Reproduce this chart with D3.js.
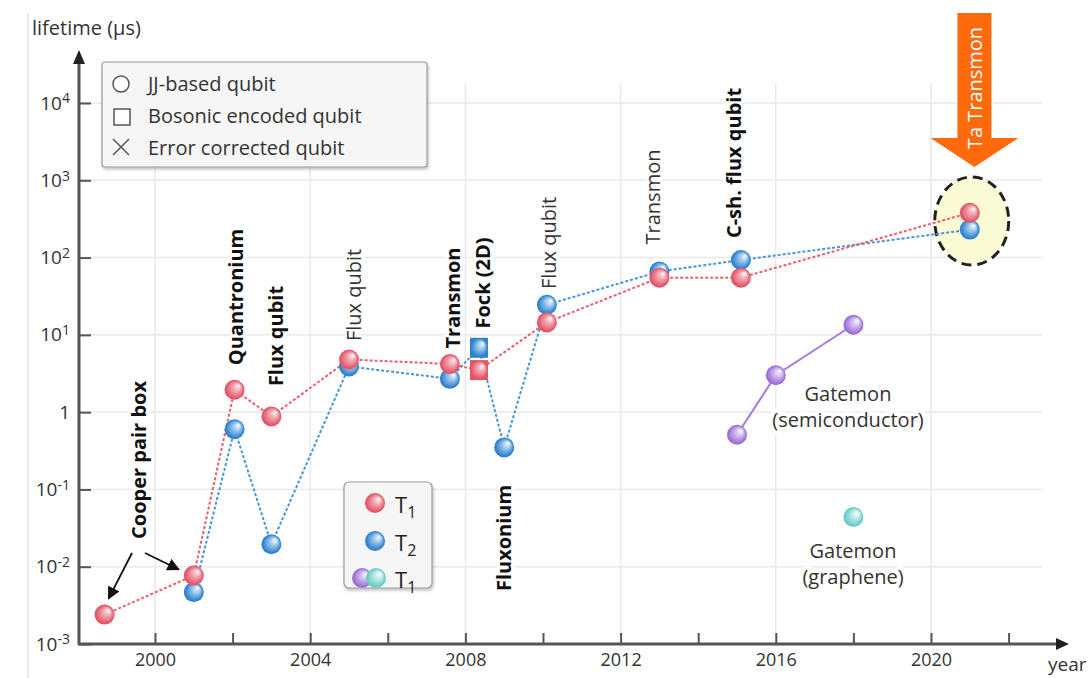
<!DOCTYPE html>
<html>
<head>
<meta charset="utf-8">
<script src="https://cdn.jsdelivr.net/npm/d3@7"></script>
<style>
  html, body { margin: 0; padding: 0; background: #fff; }
  svg { display: block; font-family: "Open Sans", "Noto Sans", sans-serif; }
</style>
</head>
<body>
<svg id="chart" width="1090" height="678"></svg>
<script>
// ---- data ---------------------------------------------------------------
// Relaxation time T1 of JJ-based qubits (µs) by year; one bosonic point (Fock 2D)
const t1Years  = [1998.7, 2001.0, 2002.05, 2003.0, 2005.0, 2007.6, 2008.35, 2010.1, 2013.0, 2015.1, 2021.0];
const t1Values = [0.0024, 0.0077, 1.95, 0.88, 4.8, 4.2, 3.5, 14.5, 55, 55, 380];
const t1Shapes = ["circle", "circle", "circle", "circle", "circle", "circle", "square", "circle", "circle", "circle", "circle"];

// Coherence time T2 (µs)
const t2Years  = [2001.0, 2002.05, 2003.0, 2005.0, 2007.6, 2008.35, 2009.0, 2010.1, 2013.0, 2015.1, 2021.0];
const t2Values = [0.0047, 0.6, 0.0195, 3.9, 2.7, 6.8, 0.35, 24.5, 66, 93, 230];
const t2Shapes = ["circle", "circle", "circle", "circle", "circle", "square", "circle", "circle", "circle", "circle", "circle"];

// Gatemon qubits, T1 (µs)
const semiYears     = [2015.0, 2016.0, 2018.0];
const semiValues    = [0.51, 3.0, 13.5];
const grapheneYears = [2018.0];
const grapheneValues = [0.044];

// axis ticks
const yTickValues = [1e-3, 1e-2, 1e-1, 1, 10, 100, 1e3, 1e4];
const yTickExponents = [-3, -2, -1, 0, 1, 2, 3, 4];
const xTickYears = [2000, 2002, 2004, 2006, 2008, 2010, 2012, 2014, 2016, 2018, 2020, 2022];
const xLabelYears = [2000, 2004, 2008, 2012, 2016, 2020];

// platform annotations (vertical text)
const platformNames = ["Cooper pair box", "Quantronium", "Flux qubit", "Flux qubit", "Transmon",
                       "Fock (2D)", "Flux qubit", "Transmon", "C-sh. flux qubit", "Fluxonium"];
const platformBold  = [true, true, true, false, true, true, false, false, true, true];

// ---- layout -------------------------------------------------------------
const svg = d3.select("#chart");
const x = d3.scaleLinear().domain([2000, 2020]).range([155, 931]);
const y = d3.scaleLog().domain([1e-3, 1e4]).range([644, 103]);
const axisX0 = 79, axisY0 = y(1e-3);

const colors = {
  red:    { base: "#e2566a", light: "#f4b2ba", line: "#e8606e" },
  blue:   { base: "#2f82cc", light: "#a9d0f0", line: "#4a94d6" },
  purple: { base: "#9c70d6", light: "#d9c6f3", line: "#a77bdc" },
  teal:   { base: "#6ccbc6", light: "#c8eeec", line: "#6ccbc6" }
};

const defs = svg.append("defs");
Object.entries(colors).forEach(([k, c]) => {
  const g = defs.append("radialGradient").attr("id", "ball-" + k)
    .attr("cx", 0.45).attr("cy", 0.55).attr("r", 0.6)
    .attr("fx", 0.72).attr("fy", 0.28);
  g.append("stop").attr("offset", 0).attr("stop-color", "#ffffff");
  g.append("stop").attr("offset", 0.28).attr("stop-color", c.light);
  g.append("stop").attr("offset", 0.75).attr("stop-color", c.base);
  g.append("stop").attr("offset", 1).attr("stop-color", c.base);
});
const shadow = defs.append("filter").attr("id", "boxshadow")
  .attr("x", -0.1).attr("y", -0.1).attr("width", 1.2).attr("height", 1.3);
shadow.append("feDropShadow").attr("dx", 1).attr("dy", 2).attr("stdDeviation", 1.5)
  .attr("flood-color", "#000").attr("flood-opacity", 0.25);
defs.append("marker").attr("id", "arrowBlack")
  .attr("viewBox", "0 0 10 10").attr("refX", 9).attr("refY", 5)
  .attr("markerWidth", 7).attr("markerHeight", 7).attr("orient", "auto")
  .append("path").attr("d", "M0,0 L10,5 L0,10 z").attr("fill", "#111");

// page frame line on the left
svg.append("line").attr("x1", 28).attr("x2", 28).attr("y1", 13).attr("y2", 678)
  .attr("stroke", "#d0d0d0").attr("stroke-width", 1);

// ---- grid ---------------------------------------------------------------
const grid = svg.append("g").attr("stroke", "#e9e9e9").attr("stroke-width", 1.5);
grid.selectAll("line.h").data(yTickValues.slice(1)).join("line")
  .attr("x1", axisX0).attr("x2", 1042)
  .attr("y1", d => y(d)).attr("y2", d => y(d));
grid.selectAll("line.v").data(xLabelYears).join("line")
  .attr("x1", d => x(d)).attr("x2", d => x(d))
  .attr("y1", 83).attr("y2", axisY0);

// ---- axes ---------------------------------------------------------------
const yAxis = d3.axisLeft(y).tickValues(yTickValues).tickSizeInner(-12).tickSizeOuter(0).tickPadding(9);
const gy = svg.append("g").attr("transform", `translate(${axisX0},0)`).call(yAxis);
gy.select(".domain").remove();
gy.selectAll(".tick line").attr("stroke", "#555").attr("stroke-width", 2);
gy.selectAll(".tick text").each(function (d, i) {
  const t = d3.select(this).text(null)
    .attr("font-size", 19).attr("fill", "#333").attr("font-family", "Open Sans, sans-serif");
  const e = yTickExponents[i];
  if (e === 0) { t.append("tspan").text("1"); return; }
  t.append("tspan").text("10");
  t.append("tspan").attr("dy", "-0.45em").attr("font-size", 14).text(String(e));
});

const xAxis = d3.axisBottom(x).tickValues(xTickYears).tickSizeInner(-11).tickSizeOuter(0).tickPadding(9)
  .tickFormat(d => xLabelYears.includes(d) ? String(d) : "");
const gx = svg.append("g").attr("transform", `translate(0,${axisY0})`).call(xAxis);
gx.select(".domain").remove();
gx.selectAll(".tick line").attr("stroke", "#555").attr("stroke-width", 2);
gx.selectAll(".tick text").attr("font-size", 18).attr("fill", "#333")
  .attr("font-family", "Open Sans, sans-serif");

// axis lines with arrow heads
const axisColor = "#555";
svg.append("line").attr("x1", axisX0).attr("x2", axisX0).attr("y1", axisY0 + 1).attr("y2", 62)
  .attr("stroke", axisColor).attr("stroke-width", 3);
svg.append("path").attr("d", `M${axisX0 - 6},64 L${axisX0},50 L${axisX0 + 6},64 Z`).attr("fill", "#222");
svg.append("line").attr("x1", axisX0 - 1).attr("x2", 1058).attr("y1", axisY0).attr("y2", axisY0)
  .attr("stroke", axisColor).attr("stroke-width", 3);
svg.append("path").attr("d", `M1056,${axisY0 - 6} L1069,${axisY0} L1056,${axisY0 + 6} Z`).attr("fill", "#222");

svg.append("text").attr("x", 32).attr("y", 35).attr("font-size", 20).attr("fill", "#333")
  .text("lifetime (µs)");
svg.append("text").attr("x", 1048).attr("y", 671).attr("font-size", 19).attr("fill", "#333")
  .text("year");

// ---- Ta transmon highlight ---------------------------------------------
svg.append("ellipse").attr("cx", x(2021.05)).attr("cy", 221).attr("rx", 37).attr("ry", 44)
  .attr("fill", "#fbfbd6").attr("stroke", "#222").attr("stroke-width", 3)
  .attr("stroke-dasharray", "10 6");

// ---- series lines -------------------------------------------------------
function series(years, values) { return years.map((yr, i) => ({ yr, v: values[i] })); }
const line = d3.line().x(d => x(d.yr)).y(d => y(d.v));

const t2 = series(t2Years, t2Values).map((d, i) => ({ ...d, shape: t2Shapes[i] }));
const t1 = series(t1Years, t1Values).map((d, i) => ({ ...d, shape: t1Shapes[i] }));
const semi = series(semiYears, semiValues);
const graphene = series(grapheneYears, grapheneValues);

svg.append("path").datum(t2).attr("d", line).attr("fill", "none")
  .attr("stroke", colors.blue.line).attr("stroke-width", 2).attr("stroke-dasharray", "3 2");
svg.append("path").datum(t1).attr("d", line).attr("fill", "none")
  .attr("stroke", colors.red.line).attr("stroke-width", 2).attr("stroke-dasharray", "3 2");
svg.append("path").datum(semi).attr("d", line).attr("fill", "none")
  .attr("stroke", colors.purple.line).attr("stroke-width", 2);

// ---- markers ------------------------------------------------------------
const R = 10;
function drawMarkers(data, key) {
  const g = svg.append("g");
  g.selectAll("circle").data(data.filter(d => d.shape !== "square")).join("circle")
    .attr("cx", d => x(d.yr)).attr("cy", d => y(d.v)).attr("r", R)
    .attr("fill", `url(#ball-${key})`);
  g.selectAll("rect").data(data.filter(d => d.shape === "square")).join("rect")
    .attr("x", d => x(d.yr) - 9).attr("y", d => y(d.v) - 10).attr("width", 18).attr("height", 20)
    .attr("fill", `url(#ball-${key})`);
}
drawMarkers(t2, "blue");
drawMarkers(t1, "red");
drawMarkers(semi, "purple");
drawMarkers(graphene, "teal");

// ---- vertical platform labels ------------------------------------------
const platformPos = [[138, 460], [235, 297], [275, 336], [353, 295], [452, 298],
                     [482, 283], [548, 243], [652, 197], [733, 163], [503, 538]];
svg.append("g").selectAll("text").data(platformNames).join("text")
  .attr("transform", (d, i) => `translate(${platformPos[i][0]},${platformPos[i][1]}) rotate(-90)`)
  .attr("text-anchor", "middle").attr("dominant-baseline", "central")
  .attr("font-size", 20)
  .attr("font-weight", (d, i) => platformBold[i] ? 700 : 400)
  .attr("fill", (d, i) => platformBold[i] ? "#111" : "#333")
  .attr("stroke", "#fff").attr("stroke-width", 5).attr("paint-order", "stroke")
  .attr("stroke-linejoin", "round")
  .text(d => d);

// Cooper pair box pointers
svg.append("line").attr("x1", 132).attr("y1", 553).attr("x2", x(t1Years[0]) + 4).attr("y2", y(t1Values[0]) - 16)
  .attr("stroke", "#111").attr("stroke-width", 1.8).attr("marker-end", "url(#arrowBlack)");
svg.append("line").attr("x1", 145).attr("y1", 553).attr("x2", x(t1Years[1]) - 15).attr("y2", y(t1Values[1]) - 6)
  .attr("stroke", "#111").attr("stroke-width", 1.8).attr("marker-end", "url(#arrowBlack)");

// Gatemon labels
function boxedLabel(lines, cx, cy0) {
  lines.forEach((txt, i) => {
    svg.append("text").attr("x", cx).attr("y", cy0 + i * 26)
      .attr("text-anchor", "middle").attr("dominant-baseline", "central")
      .attr("font-size", 20).attr("fill", "#333")
      .attr("stroke", "#fff").attr("stroke-width", 8).attr("paint-order", "stroke")
      .attr("stroke-linejoin", "round")
      .text(txt);
  });
}
boxedLabel(["Gatemon", "(semiconductor)"], 848, 393);
boxedLabel(["Gatemon", "(graphene)"], 853, 550);

// ---- Ta transmon arrow ---------------------------------------------------
const arrowX = x(2021.12);
svg.append("path")
  .attr("d", `M${arrowX - 17},13 L${arrowX + 17},13 L${arrowX + 17},138 L${arrowX + 44},138 ` +
             `L${arrowX},167 L${arrowX - 44},138 L${arrowX - 17},138 Z`)
  .attr("fill", "#ff6a0c");
svg.append("text").attr("transform", `translate(${arrowX},88) rotate(-90)`)
  .attr("text-anchor", "middle").attr("dominant-baseline", "central")
  .attr("font-size", 20).attr("fill", "#fff").text("Ta Transmon");

// ---- legends ------------------------------------------------------------
const leg = svg.append("g");
leg.append("rect").attr("x", 102).attr("y", 62).attr("width", 325).attr("height", 105)
  .attr("rx", 3).attr("fill", "#f6f6f6").attr("stroke", "#9a9a9a").attr("stroke-width", 1.2)
  .attr("filter", "url(#boxshadow)");
const legendNames = ["JJ-based qubit", "Bosonic encoded qubit", "Error corrected qubit"];
const legendSymbolY = [84, 117, 147];
const legendTextY = [91, 123, 155];
leg.append("circle").attr("cx", 121).attr("cy", legendSymbolY[0]).attr("r", 8)
  .attr("fill", "#fff").attr("stroke", "#555").attr("stroke-width", 1.5);
leg.append("rect").attr("x", 114).attr("y", legendSymbolY[1] - 8).attr("width", 16).attr("height", 16)
  .attr("fill", "#fff").attr("stroke", "#555").attr("stroke-width", 1.5);
leg.append("path").attr("d", `M113,${legendSymbolY[2] - 8} L129,${legendSymbolY[2] + 8} M129,${legendSymbolY[2] - 8} L113,${legendSymbolY[2] + 8}`)
  .attr("stroke", "#555").attr("stroke-width", 1.5);
leg.selectAll("text").data(legendNames).join("text")
  .attr("x", 148).attr("y", (d, i) => legendTextY[i])
  .attr("font-size", 20).attr("fill", "#333").text(d => d);

const leg2 = svg.append("g");
leg2.append("rect").attr("x", 344).attr("y", 482).attr("width", 88).attr("height", 106)
  .attr("rx", 5).attr("fill", "#f6f6f6").attr("stroke", "#9a9a9a").attr("stroke-width", 1.2)
  .attr("filter", "url(#boxshadow)");
leg2.append("circle").attr("cx", 375).attr("cy", 503).attr("r", R).attr("fill", "url(#ball-red)");
leg2.append("circle").attr("cx", 375).attr("cy", 541).attr("r", R).attr("fill", "url(#ball-blue)");
leg2.append("circle").attr("cx", 362).attr("cy", 578).attr("r", R).attr("fill", "url(#ball-purple)");
leg2.append("circle").attr("cx", 376).attr("cy", 578).attr("r", R).attr("fill", "url(#ball-teal)");
const legendT = [["1", 513], ["2", 551], ["1", 588]];
legendT.forEach(([sub, by]) => {
  const t = leg2.append("text").attr("x", 395).attr("y", by).attr("font-size", 22).attr("fill", "#222");
  t.append("tspan").text("T");
  t.append("tspan").attr("dy", 5).attr("font-size", 16).text(sub);
});
</script>
</body>
</html>
